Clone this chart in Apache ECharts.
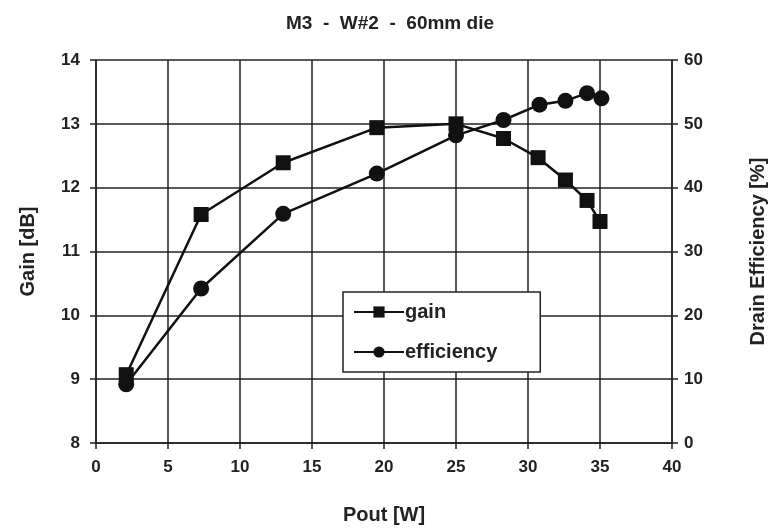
<!DOCTYPE html>
<html>
<head>
<meta charset="utf-8">
<script src="https://cdn.jsdelivr.net/npm/echarts@6/dist/echarts.min.js"></script>
<style>
    html, body { margin: 0; padding: 0; background: #fff; }
    #chart { width: 771px; height: 531px; }
</style>
</head>
<body>
<div id="chart"></div>
<script>
    // Pout [W]
    const poutGain = [2.1, 7.3, 13.0, 19.5, 25.0, 28.3, 30.7, 32.6, 34.1, 35.0];
    const gain = [9.07, 11.58, 12.39, 12.94, 13.0, 12.77, 12.47, 12.12, 11.8, 11.47];
    const poutEff = [2.1, 7.3, 13.0, 19.5, 25.0, 28.3, 30.8, 32.6, 34.1, 35.1];
    const efficiency = [9.2, 24.2, 35.9, 42.2, 48.2, 50.6, 53.0, 53.6, 54.8, 54.0];
    const names = ['gain', 'efficiency'];

    const chart = echarts.init(document.getElementById('chart'));
    const font = '"Liberation Sans", Arial, sans-serif';
    const axisLine = { show: true, lineStyle: { color: '#222', width: 1.5 } };
    const axisTick = { show: true, inside: false, length: 6, lineStyle: { color: '#222', width: 1.5 } };
    const label = { color: '#222', fontSize: 17, fontWeight: 'bold', fontFamily: font };
    const split = { show: true, lineStyle: { color: '#222', width: 1.5 } };
    const nameStyle = { color: '#222', fontSize: 20, fontWeight: 'bold', fontFamily: font };

    const option = {
        animation: false,
        backgroundColor: '#fff',
        title: {
            text: 'M3  -  W#2  -  60mm die',
            left: 385,
            textAlign: 'center',
            top: 9,
            textStyle: { color: '#222', fontSize: 19, fontWeight: 'bold', fontFamily: font }
        },
        legend: {
            data: names,
            orient: 'vertical',
            left: 343,
            top: 292,
            padding: [10, 43, 10, 10],
            itemGap: 20,
            itemWidth: 50,
            itemHeight: 14,
            backgroundColor: '#fff',
            borderColor: '#222',
            borderWidth: 1.5,
            textStyle: { color: '#222', fontSize: 20, fontWeight: 'bold', fontFamily: font, padding: [0, 0, 0, -4] }
        },
        grid: { left: 96, right: 99, top: 60, bottom: 88, outerBoundsMode: 'none' },
        xAxis: {
            type: 'value',
            min: 0, max: 40, interval: 5,
            name: 'Pout [W]',
            nameLocation: 'middle',
            nameGap: 62,
            nameTextStyle: nameStyle,
            axisLine, axisTick,
            axisLabel: Object.assign({ margin: 16 }, label),
            splitLine: split
        },
        yAxis: [
            {
                type: 'value',
                min: 8, max: 14, interval: 1,
                name: 'Gain [dB]',
                nameLocation: 'middle',
                nameGap: 58,
                nameTextStyle: nameStyle,
                axisLine, axisTick,
                axisLabel: Object.assign({ margin: 16 }, label),
                splitLine: split
            },
            {
                type: 'value',
                min: 0, max: 60, interval: 10,
                name: 'Drain Efficiency [%]',
                nameLocation: 'middle',
                nameGap: 76,
                nameRotate: 90,
                nameTextStyle: nameStyle,
                axisLine, axisTick,
                axisLabel: Object.assign({ margin: 12 }, label),
                splitLine: { show: false }
            }
        ],
        series: [
            {
                name: names[0],
                type: 'line',
                yAxisIndex: 0,
                data: poutGain.map((x, i) => [x, gain[i]]),
                symbol: 'rect',
                symbolSize: 15,
                itemStyle: { color: '#111' },
                lineStyle: { color: '#111', width: 2.5 },
                z: 3
            },
            {
                name: names[1],
                type: 'line',
                yAxisIndex: 1,
                data: poutEff.map((x, i) => [x, efficiency[i]]),
                symbol: 'circle',
                symbolSize: 16,
                itemStyle: { color: '#111' },
                lineStyle: { color: '#111', width: 2.5 },
                z: 3
            }
        ]
    };

    chart.setOption(option);
</script>
</body>
</html>
